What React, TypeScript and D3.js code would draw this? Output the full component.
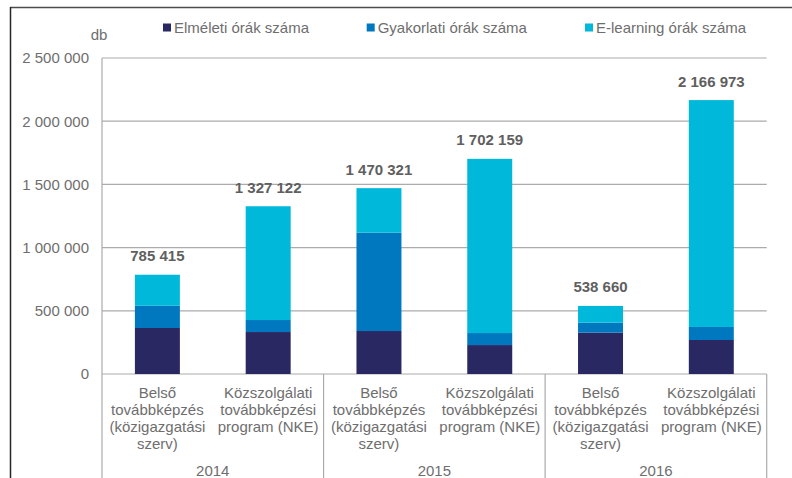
import React from "react";
import * as d3 from "d3";

const categories = [
  "Belső továbbképzés (közigazgatási szerv)",
  "Közszolgálati továbbképzési program (NKE)",
  "Belső továbbképzés (közigazgatási szerv)",
  "Közszolgálati továbbképzési program (NKE)",
  "Belső továbbképzés (közigazgatási szerv)",
  "Közszolgálati továbbképzési program (NKE)",
];
const categoryLines = [
  ["Belső", "továbbképzés", "(közigazgatási", "szerv)"],
  ["Közszolgálati", "továbbképzési", "program (NKE)"],
  ["Belső", "továbbképzés", "(közigazgatási", "szerv)"],
  ["Közszolgálati", "továbbképzési", "program (NKE)"],
  ["Belső", "továbbképzés", "(közigazgatási", "szerv)"],
  ["Közszolgálati", "továbbképzési", "program (NKE)"],
];
const years = ["2014", "2015", "2016"];
const seriesNames = ["Elméleti órák száma", "Gyakorlati órák száma", "E-learning órák száma"];
const elmeleti = [364000, 332000, 340000, 229000, 327000, 269000];
const gyakorlati = [176000, 95000, 778000, 95000, 79000, 103000];
const totals = [785415, 1327122, 1470321, 1702159, 538660, 2166973];
const elearning = totals.map((t, i) => t - elmeleti[i] - gyakorlati[i]);
const yTicks = [0, 500000, 1000000, 1500000, 2000000, 2500000];
const colors = ["#2a2862", "#0078c0", "#00b8d9"];

const fmt = (v: number) => d3.format(",")(v).replace(/,/g, " ");

export default function App() {
  const W = 792, H = 478;
  const left = 102, right = 766.7, top = 58, bottom = 374;
  const x = d3.scaleBand<number>().domain(d3.range(6)).range([left, right]).paddingInner(0.594).paddingOuter(0.297);
  const y = d3.scaleLinear().domain([0, 2500000]).range([bottom, top]);
  const rows = categories.map((c, i) => ({ i, elmeleti: elmeleti[i], gyakorlati: gyakorlati[i], elearning: elearning[i] }));
  const stack = d3.stack<any>().keys(["elmeleti", "gyakorlati", "elearning"])(rows);
  const bandW = (right - left) / 6;
  const font = "'Liberation Sans', Arial, sans-serif";
  const textCol = "#6e6e6e";
  const legendX = [163, 366.7, 585];

  return (
    <svg width={W} height={H} style={{ position: "absolute", left: 0, top: 0 }} fontFamily={font}>
      <rect width={W} height={H} fill="#fff" />
      {/* frame */}
      <line x1={10} x2={W} y1={7.5} y2={7.5} stroke="#4d4d4d" strokeWidth={1.5} />
      <line x1={10.5} x2={10.5} y1={7} y2={H} stroke="#262626" strokeWidth={1.5} />
      {/* gridlines */}
      {yTicks.map((t) => (
        <line key={t} x1={left} x2={right} y1={y(t)} y2={y(t)} stroke="#ababab" strokeWidth={1.2} />
      ))}
      {/* axis lines */}
      <line x1={left} x2={left} y1={top} y2={H} stroke="#ababab" strokeWidth={1.2} />
      {[2, 4, 6].map((k) => (
        <line key={k} x1={left + k * bandW} x2={left + k * bandW} y1={bottom} y2={H} stroke="#ababab" strokeWidth={1.2} />
      ))}
      {/* y tick labels */}
      {yTicks.map((t) => (
        <text key={t} x={89} y={y(t)} dy="0.36em" textAnchor="end" fontSize={15} fill={textCol}>{fmt(t)}</text>
      ))}
      <text x={99} y={35} dy="0.36em" textAnchor="middle" fontSize={15} fill={textCol}>db</text>
      {/* bars */}
      {stack.map((s, si) => (
        <g key={si} fill={colors[si]}>
          {s.map((d, i) => (
            <rect key={i} x={x(i)} width={x.bandwidth()} y={y(d[1])} height={y(d[0]) - y(d[1])} />
          ))}
        </g>
      ))}
      {/* total labels */}
      {totals.map((t, i) => (
        <text key={i} x={(x(i) as number) + x.bandwidth() / 2} y={y(t) - 13.5} textAnchor="middle" fontSize={15} fontWeight="bold" fill="#5f5f5f">{fmt(t)}</text>
      ))}
      {/* category labels */}
      {categoryLines.map((lines, i) => (
        <text key={i} x={left + (i + 0.5) * bandW} textAnchor="middle" fontSize={15} fill={textCol}>
          {lines.map((l, li) => (
            <tspan key={li} x={left + (i + 0.5) * bandW} y={398 + li * 17}>{l}</tspan>
          ))}
        </text>
      ))}
      {years.map((yr, k) => (
        <text key={yr} x={left + (2 * k + 1) * bandW} y={476} textAnchor="middle" fontSize={15} fill={textCol}>{yr}</text>
      ))}
      {/* legend */}
      {seriesNames.map((n, si) => (
        <g key={n}>
          <rect x={legendX[si]} y={23.5} width={8} height={8} fill={colors[si]} />
          <text x={legendX[si] + 11} y={27.5} dy="0.36em" fontSize={15} fill={textCol}>{n}</text>
        </g>
      ))}
    </svg>
  );
}
